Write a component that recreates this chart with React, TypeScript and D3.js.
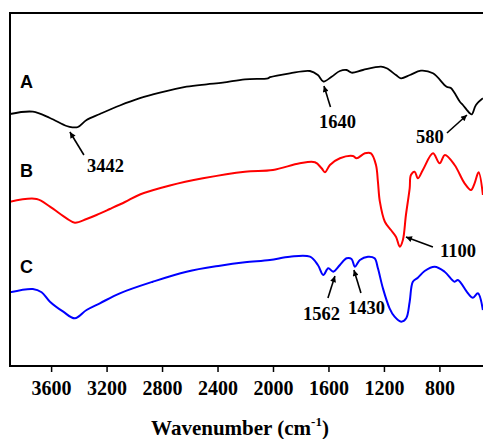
import React from "react";
import * as d3 from "d3";

// wavenumber (cm-1) and transmittance (a.u.)
const seriesA: [number, number][] = [
  [3900, 252], [3735, 254.3], [3612, 248], [3492, 240], [3450, 238.7], [3410, 239],
  [3348, 246], [3252, 252], [3108, 260.5], [2963, 267.8], [2819, 273.3],
  [2627, 279.3], [2482, 281.7], [2365, 283.3], [2206, 286.7], [2040, 287.7], [2025, 288.8],
  [1882, 292.7], [1737, 295], [1680, 291], [1640, 284.5], [1581, 289.3],
  [1521, 295], [1473, 296], [1437, 293.3], [1355, 296], [1225, 299.3], [1184, 297.7],
  [1117, 291], [1081, 287.7], [1016, 291], [937, 295.3], [850, 292.7], [752, 279.3],
  [721, 278], [656, 264.3], [634, 261], [584, 252.7], [570, 251.7], [540, 261], [490, 267.7],
];
const seriesB: [number, number][] = [
  [3900, 164.3], [3708, 167], [3612, 159.3], [3492, 147.7], [3432, 143.3], [3348, 147],
  [3276, 151], [3180, 157], [3071, 164], [2963, 171.5], [2747, 180.5], [2509, 187.7],
  [2206, 194.3], [2004, 196], [1810, 202.7], [1701, 203.7], [1653, 197.7], [1629, 193.7],
  [1593, 201], [1521, 207.7], [1427, 210], [1401, 207.7], [1341, 212.7], [1297, 212.7],
  [1261, 201], [1247, 184.3], [1233, 164.3], [1197, 144.3], [1153, 136], [1117, 129.3],
  [1089, 119.3], [1067, 126], [1045, 151], [1018, 177.7], [1009, 191], [982, 194.3],
  [959, 187.7], [923, 196], [850, 212.7], [802, 202.7], [764, 211], [694, 201],
  [622, 182.7], [576, 176], [550, 182.7], [521, 193.7], [490, 171],
];
const seriesC: [number, number][] = [
  [3900, 73.7], [3735, 77], [3672, 73.7], [3612, 64.3], [3516, 54.3], [3432, 47.7],
  [3348, 56], [3252, 62.7], [3108, 72.7], [2870, 84.3], [2627, 94.3], [2386, 100.3],
  [2206, 103.7], [2026, 106], [1882, 109.3], [1737, 109.3], [1680, 101], [1641, 91],
  [1605, 97.7], [1569, 94.3], [1521, 101], [1473, 107.7], [1437, 107], [1413, 99.3],
  [1377, 106], [1319, 109.3], [1271, 107.7], [1247, 97.7], [1211, 77.7], [1163, 57.7],
  [1127, 49.3], [1079, 44.3], [1043, 47.7], [1018, 64.3], [995, 84.3], [959, 88.3],
  [910, 95], [838, 99.3], [766, 94.3], [694, 84.3], [670, 86], [598, 72.7], [562, 68.3],
  [526, 72.7], [490, 56],
];
const xTicks = [3600, 3200, 2800, 2400, 2000, 1600, 1200, 800];
const seriesNames = ["A", "B", "C"];
const seriesColors = ["#000000", "#ff0000", "#0000ff"];
const labelValues = [278, 189, 93];
// annotation: text, tip wavenumber, tip value, tail offset, text offset
const annotations: { t: string; w: number; v: number; tdx: number; tdy: number; lx: number; ly: number }[] = [
  { t: "3442", w: 3468, v: 234, tdx: 14, tdy: 23, lx: 17, ly: 40 },
  { t: "1640", w: 1636, v: 280, tdx: 6.5, tdy: 21, lx: -5, ly: 42 },
  { t: "580", w: 605, v: 251, tdx: -20, tdy: 18, lx: -51, ly: 28 },
  { t: "1100", w: 1045, v: 129, tdx: 27, tdy: 10, lx: 34, ly: 20 },
  { t: "1562", w: 1557, v: 90, tdx: -7, tdy: 22, lx: -32, ly: 44 },
  { t: "1430", w: 1420, v: 96, tdx: 7, tdy: 23, lx: -6, ly: 44 },
];

export default function App() {
  const W = 483, H = 439;
  const left = 10, top = 13, bottom = 366;
  const x = d3.scaleLinear().domain([3900, 400]).range([left, left + 3500 * 0.13868]);
  const y = d3.scaleLinear().domain([0, 353]).range([bottom, top]);
  const line = d3.line<[number, number]>().x((d) => x(d[0])).y((d) => y(d[1])).curve(d3.curveCatmullRom.alpha(0.5));
  const all = [seriesA, seriesB, seriesC];
  const serif = "'Liberation Serif', 'Times New Roman', serif";
  return (
    <svg width={W} height={H} style={{ position: "absolute", left: 0, top: 0, background: "#fff" }}>
      <defs>
        <clipPath id="plot">
          <rect x={left} y={top} width={W - left} height={bottom - top} />
        </clipPath>
        <marker id="ah" viewBox="0 0 10 10" refX="10" refY="5" markerWidth="7" markerHeight="6" orient="auto" markerUnits="userSpaceOnUse">
          <path d="M0,0 L10,5 L0,10 Z" fill="#000" />
        </marker>
      </defs>
      <g clipPath="url(#plot)">
        {all.map((s, i) => (
          <path key={i} d={line(s) || ""} fill="none" stroke={seriesColors[i]} strokeWidth={i === 0 ? 1.8 : 2} strokeLinejoin="round" />
        ))}
      </g>
      <path d={`M${W + 20},${top} H${left} V${bottom} H${W + 20}`} fill="none" stroke="#000" strokeWidth={2} />
      {xTicks.map((t) => (
        <g key={t}>
          <line x1={x(t)} x2={x(t)} y1={bottom} y2={bottom + 6} stroke="#000" strokeWidth={1.5} />
          <text x={x(t)} y={395} textAnchor="middle" fontFamily={serif} fontWeight="bold" fontSize={20}>{t}</text>
        </g>
      ))}
      <text x={240} y={435} textAnchor="middle" fontFamily={serif} fontWeight="bold" fontSize={21}>
        Wavenumber (cm<tspan fontSize={13} dy={-9}>-1</tspan><tspan dy={9}>)</tspan>
      </text>
      {seriesNames.map((n, i) => (
        <text key={n} x={20} y={y(labelValues[i])} fontFamily="'Liberation Sans', Arial, sans-serif" fontWeight="bold" fontSize={18}>{n}</text>
      ))}
      {annotations.map((a) => {
        const tx = x(a.w), ty = y(a.v);
        return (
          <g key={a.t}>
            <line x1={tx + a.tdx} y1={ty + a.tdy} x2={tx} y2={ty} stroke="#000" strokeWidth={1.6} markerEnd="url(#ah)" />
            <text x={tx + a.lx} y={ty + a.ly} fontFamily={serif} fontWeight="bold" fontSize={18.5}>{a.t}</text>
          </g>
        );
      })}
    </svg>
  );
}
